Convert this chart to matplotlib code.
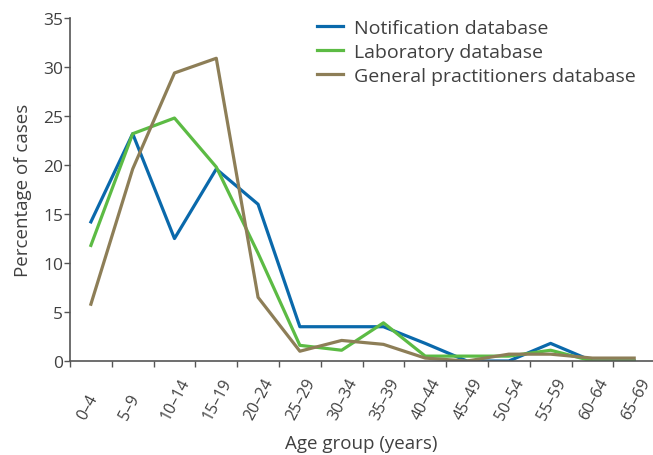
import matplotlib
matplotlib.use("Agg")
import matplotlib.pyplot as plt
import matplotlib.transforms as mtransforms

plt.rcParams['font.family'] = ['Open Sans', 'DejaVu Sans']

# age groups on the x axis
age_groups = ["0–4", "5–9", "10–14", "15–19", "20–24", "25–29", "30–34",
              "35–39", "40–44", "45–49", "50–54", "55–59", "60–64", "65–69"]

# percentage of cases per database
notification = [14.2, 23.2, 12.5, 19.6, 16.0, 3.5, 3.5, 3.5, 1.8, 0.0, 0.0, 1.8, 0.0, 0.0]
laboratory = [11.8, 23.2, 24.8, 19.8, 11.0, 1.6, 1.1, 3.9, 0.5, 0.5, 0.5, 1.1, 0.0, 0.0]
general_pract = [5.8, 19.6, 29.4, 30.9, 6.5, 1.0, 2.1, 1.7, 0.3, 0.0, 0.7, 0.7, 0.3, 0.3]

text_col = "#404040"

fig = plt.figure(figsize=(6.53, 4.56), dpi=100)
ax = fig.add_axes([0.1072, 0.2061, 0.8928, 0.752])

x = list(range(len(age_groups)))
ax.plot(x, notification, color="#0A69AB", lw=2.3, label="Notification database")
ax.plot(x, laboratory, color="#5CBB44", lw=2.3, label="Laboratory database")
ax.plot(x, general_pract, color="#8D7E57", lw=2.3, label="General practitioners database")

ax.set_xlim(-0.5, 13.45)
ax.set_ylim(0, 35)
ax.set_yticks(range(0, 36, 5))

# ticks sit between categories, labels under the points
ax.set_xticks([i - 0.5 for i in range(len(age_groups))])
ax.set_xticklabels([])
ax.set_xticks(x, minor=True)
ax.set_xticklabels(age_groups, minor=True, rotation=62, ha="left", va="center",
                   rotation_mode="anchor", fontsize=11.5, color=text_col)
ax.tick_params(axis="x", which="minor", length=0, pad=41)
# labels start a bit left of the point, all at the same height
shift = mtransforms.ScaledTranslation(-0.09, 0, fig.dpi_scale_trans)
for lab in ax.get_xticklabels(minor=True):
    lab.set_transform(lab.get_transform() + shift)
ax.tick_params(axis="x", which="major", length=4, width=1, color="#555555")
ax.tick_params(axis="y", length=4, width=1, color="#555555", labelsize=12.5,
               labelcolor=text_col, pad=1)

for s in ["top", "right"]:
    ax.spines[s].set_visible(False)
for s in ["left", "bottom"]:
    ax.spines[s].set_color("#555555")
    ax.spines[s].set_linewidth(1.2)

ax.set_ylabel("Percentage of cases", fontsize=13.5, color=text_col, labelpad=8)
ax.set_xlabel("Age group (years)", fontsize=13.5, color=text_col, labelpad=9)

leg = ax.legend(loc="upper left", bbox_to_anchor=(0.411, 1.02), frameon=False,
                fontsize=14, handlelength=1.33, handletextpad=0.57,
                labelspacing=0.31, borderaxespad=0)
for t in leg.get_texts():
    t.set_color(text_col)

fig.savefig("out.png", dpi=100)
